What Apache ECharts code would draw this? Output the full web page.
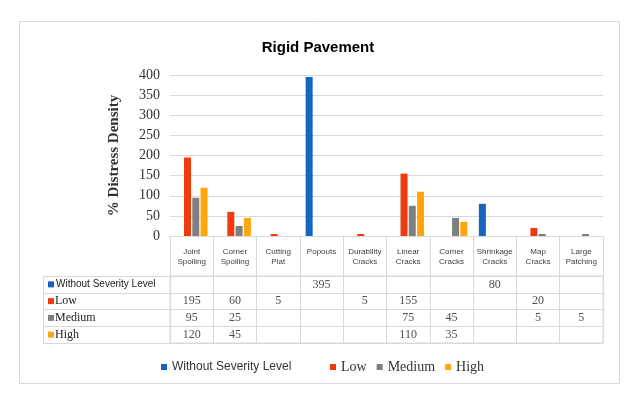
<!DOCTYPE html>
<html><head><meta charset="utf-8">
<script src="https://cdn.jsdelivr.net/npm/echarts@6/dist/echarts.min.js"></script>
<style>html,body{margin:0;padding:0;background:#fff}#c{width:636px;height:401px}</style>
</head><body><div id="c"></div>
<script>
const categories = ["Joint\nSpoiling","Corner\nSpoiling","Cutting\nPlat","Popouts","Durability\nCracks","Linear\nCracks","Corner\nCracks","Shrinkage\nCracks","Map\nCracks","Large\nPatching"];
const seriesNames = ["Without Severity Level","Low","Medium","High"];
const withoutSeverity = [null,null,null,395,null,null,null,80,null,null];
const low = [195,60,5,null,5,155,null,null,20,null];
const medium = [95,25,null,null,null,75,45,null,5,5];
const high = [120,45,null,null,null,110,35,null,null,null];
const yTicks = [0,50,100,150,200,250,300,350,400];

const colors = ['#1565C0','#F03C0C','#7F7F7F','#FFA60A'];
const values = [withoutSeverity, low, medium, high];
const serif = 'Liberation Serif';
const sans = 'Liberation Sans';
const lineC = '#d9d9d9';

const cellData = [];
values.forEach((arr, r) => arr.forEach((v, c) => { if (v !== null) cellData.push([c, r, v]); }));

const rowRich = {};
seriesNames.forEach((n, i) => {
  rowRich['s' + i] = {width: 6, height: 6, backgroundColor: colors[i]};
});
rowRich.sans = {fontFamily: sans, fontSize: 10, color: '#222', padding: [0,0,0,2]};
rowRich.serif = {fontFamily: serif, fontSize: 12, color: '#222', padding: [0,0,0,1]};

const chart = echarts.init(document.getElementById('c'), null, {renderer: 'canvas'});
chart.setOption({
  animation: false,
  backgroundColor: '#fff',
  color: colors,
  title: {text: 'Rigid Pavement', left: 'center', top: 35,
    textStyle: {fontFamily: sans, fontWeight: 'bold', fontSize: 15, color: '#000'}},
  graphic: [{type: 'rect', shape: {x: 19.5, y: 21.5, width: 600, height: 362},
    style: {fill: 'none', stroke: lineC, lineWidth: 1}, silent: true, z: -1}],
  legend: [
    {data: [{name: seriesNames[0], textStyle: {fontFamily: sans, fontSize: 12, color: '#333'}}],
      left: 156, top: 356, itemWidth: 6, itemHeight: 6, icon: 'rect', itemGap: 5},
    {data: seriesNames.slice(1).map(n => ({name: n, textStyle: {fontFamily: serif, fontSize: 14, color: '#333'}})),
      left: 325, top: 355, itemWidth: 6, itemHeight: 6, icon: 'rect', itemGap: 10}
  ],
  grid: [
    {left: 170, right: 33, top: 75, height: 161},
    {left: 170, right: 33, top: 276, height: 67, show: true, borderColor: lineC, borderWidth: 1}
  ],
  xAxis: [
    {type: 'category', gridIndex: 0, data: categories,
      axisLine: {lineStyle: {color: lineC}},
      axisTick: {show: true, interval: 0, length: 40, lineStyle: {color: lineC}},
      axisLabel: {interval: 0, margin: 11, fontFamily: sans, fontSize: 8, lineHeight: 10, color: '#404040', verticalAlign: 'top'}},
    {type: 'category', gridIndex: 1, data: categories,
      axisLine: {show: false}, axisTick: {show: false}, axisLabel: {show: false},
      splitLine: {show: true, interval: 0, lineStyle: {color: lineC}}}
  ],
  yAxis: [
    {type: 'value', gridIndex: 0, min: yTicks[0], max: yTicks[yTicks.length - 1], interval: yTicks[1] - yTicks[0],
      name: '% Distress Density', nameLocation: 'middle', nameGap: 48,
      nameTextStyle: {fontFamily: serif, fontSize: 15, fontWeight: 'bold', color: '#333'},
      axisLine: {show: false}, axisTick: {show: false},
      axisLabel: {fontFamily: serif, fontSize: 14, color: '#333', margin: 10},
      splitLine: {lineStyle: {color: lineC}}},
    {type: 'category', gridIndex: 1, inverse: true,
      data: seriesNames,
      axisLine: {show: true, lineStyle: {color: lineC}},
      axisTick: {show: true, interval: 0, length: 127, lineStyle: {color: lineC}},
      splitLine: {show: true, interval: 0, lineStyle: {color: lineC}},
      axisLabel: {interval: 0, align: 'left', margin: 122, rich: rowRich,
        formatter: (v) => {
          const i = seriesNames.indexOf(v);
          return '{s' + i + '|}' + (i === 0 ? '{sans|' + v + '}' : '{serif|' + v + '}');
        }}},
    {type: 'category', gridIndex: 1, position: 'left', offset: 127, data: seriesNames,
      axisLine: {show: true, lineStyle: {color: lineC}}, axisTick: {show: false}, axisLabel: {show: false}}
  ],
  series: [
    ...seriesNames.map((n, i) => ({
      name: n, type: 'bar', xAxisIndex: 0, yAxisIndex: 0, data: values[i],
      barWidth: 7, barGap: '18%', itemStyle: {color: colors[i]}
    })),
    {type: 'scatter', xAxisIndex: 1, yAxisIndex: 1, data: cellData, symbolSize: 1,
      itemStyle: {color: 'rgba(0,0,0,0)'}, silent: true,
      label: {show: true, position: 'inside', formatter: p => String(p.value[2]),
        fontFamily: serif, fontSize: 12, color: '#222'}}
  ]
});
</script></body></html>
